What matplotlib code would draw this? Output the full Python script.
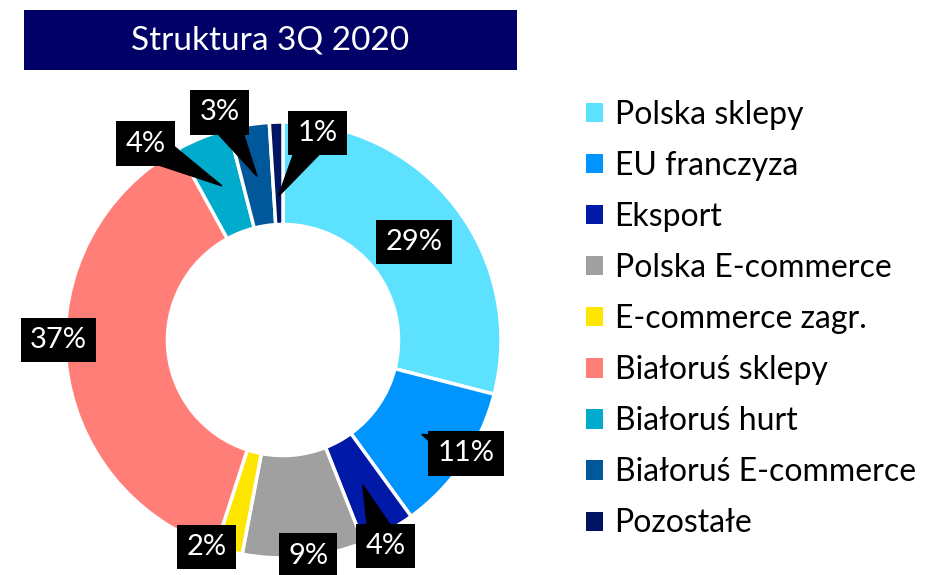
import matplotlib.pyplot as plt
from matplotlib.patches import Rectangle, Patch
import numpy as np

plt.rcParams['font.family'] = ['Lato', 'DejaVu Sans']

# data
categories = ["Polska sklepy", "EU franczyza", "Eksport", "Polska E-commerce",
              "E-commerce zagr.", "Białoruś sklepy", "Białoruś hurt",
              "Białoruś E-commerce", "Pozostałe"]
shares = [29, 11, 4, 9, 2, 37, 4, 3, 1]
colors = ["#5CE1FF", "#0094FF", "#0019A6", "#A0A0A0", "#FFE600",
          "#FF7F78", "#00ABCC", "#00589B", "#001464"]

# label box positions (pie units); pointer radius 0 = no callout pointer
label_pos = [(0.60, 0.45), (0.84, -0.52), (0.47, -0.945), (0.115, -0.99),
             (-0.35, -0.95), (-1.03, 0.0), (-0.63, 0.90), (-0.29, 1.045),
             (0.16, 0.95)]
pointer_r = [0, 0.77, 0.76, 0, 0, 0, 0.76, 0.76, 0.66]

W, H = 943, 575
fig = plt.figure(figsize=(W / 100, H / 100), dpi=100)

# pie axes: centre at (283, 340) px, radius 218 px
cx, cy, R = 283, 340, 218
span = 1.3
side = 2 * span * R
ax = fig.add_axes([(cx - side / 2) / W, (H - cy - side / 2) / H, side / W, side / H])

wedges, _ = ax.pie(shares, colors=colors, startangle=90, counterclock=False,
                   wedgeprops=dict(width=0.47, edgecolor="white", linewidth=2.5))
ax.set_xlim(-span, span)
ax.set_ylim(-span, span)
ax.set_aspect("equal")
ax.axis("off")

bbox = dict(boxstyle="square,pad=0.32", fc="black", ec="none")
hw = 0.075  # half width of the callout base
for w, v, (lx, ly), pr in zip(wedges, shares, label_pos, pointer_r):
    if pr > 0:
        mid = np.deg2rad((w.theta1 + w.theta2) / 2)
        tx, ty = pr * np.cos(mid), pr * np.sin(mid)
        d = np.array([tx - lx, ty - ly])
        n = np.array([-d[1], d[0]]) / np.hypot(*d)
        ax.fill([lx + hw * n[0], tx, lx - hw * n[0]],
                [ly + hw * n[1], ty, ly - hw * n[1]],
                color="black", zorder=3, clip_on=False)
    ax.text(lx, ly, f"{v}%", ha="center", va="center", fontsize=21,
            color="white", bbox=bbox, clip_on=False, zorder=4)

# title banner
fig.patches.append(Rectangle((24 / W, 1 - 70 / H), 493 / W, 60 / H,
                             transform=fig.transFigure, fc="#000066", ec="none"))
fig.text(270.5 / W, 1 - 40 / H, "Struktura 3Q 2020", ha="center", va="center",
         fontsize=24, color="white")

# legend
handles = [Patch(fc=c, ec="none") for c in colors]
fig.legend(handles, categories, loc="upper left", bbox_to_anchor=(573 / W, 1 - 87 / H),
           frameon=False, fontsize=23, handlelength=0.55, handleheight=0.55,
           handletextpad=0.35, labelspacing=0.66, borderaxespad=0)

fig.savefig("out.png", dpi=100)
